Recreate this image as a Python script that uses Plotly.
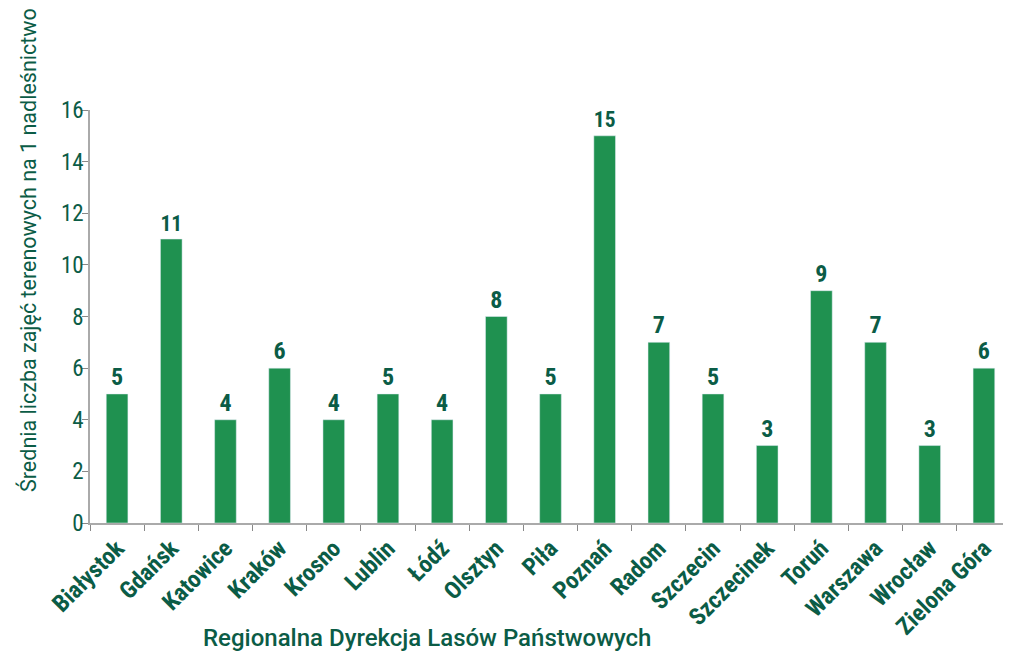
import plotly.graph_objects as go

categories = ["Białystok", "Gdańsk", "Katowice", "Kraków", "Krosno", "Lublin", "Łódź",
              "Olsztyn", "Piła", "Poznań", "Radom", "Szczecin", "Szczecinek", "Toruń",
              "Warszawa", "Wrocław", "Zielona Góra"]
values = [5, 11, 4, 6, 4, 5, 4, 8, 5, 15, 7, 5, 3, 9, 7, 3, 6]
x_title = "Regionalna Dyrekcja Lasów Państwowych"
y_title = "Średnia liczba zajęć terenowych na 1 nadleśnictwo"

bar_color = "#1f9150"
text_color = "#0b5c46"
cond = "Roboto Condensed, Roboto, sans-serif"
reg = "Roboto, sans-serif"

# page body has an 8px margin; figure sized to fill the rest of the viewport
W, H = 1003, 648
L, T, R, B = 82, 102, 0, 133
pw = W - L - R
ph = H - T - B

fig = go.Figure(go.Bar(
    x=categories, y=values, marker_color=bar_color, width=0.4,
    text=[str(v) for v in values], textposition="outside", cliponaxis=False,
    textfont=dict(family=cond, size=24, color=text_color, weight="bold"),
))

fig.update_layout(
    width=W, height=H, plot_bgcolor="white", paper_bgcolor="white",
    margin=dict(l=L, r=R, t=T, b=B, autoexpand=False),
    showlegend=False,
    font=dict(family=cond, color=text_color),
)
fig.add_annotation(text=x_title, xref="paper", yref="paper",
                   x=(419 - L) / pw, y=-(630 - (H - B)) / ph,
                   xanchor="center", yanchor="middle", showarrow=False,
                   font=dict(family=reg, size=24, color=text_color, weight=500))
fig.add_annotation(text=y_title, xref="paper", yref="paper",
                   x=(20 - L) / pw, y=((H - B) - 242) / ph, textangle=-90,
                   xanchor="center", yanchor="middle", showarrow=False,
                   font=dict(family=reg, size=21.5, color=text_color))

fig.update_xaxes(
    showline=True, linecolor="#aaaaaa", linewidth=1.5, automargin=False,
    ticks="outside", tickson="boundaries", ticklen=6, tickcolor="#888888",
    tickangle=-45, tickfont=dict(family=cond, size=24, color=text_color, weight="bold"),
)
fig.update_yaxes(
    range=[0, 16], dtick=2, showgrid=False, zeroline=False, automargin=False,
    showline=True, linecolor="#aaaaaa", linewidth=1.5,
    ticks="outside", ticklen=6, tickcolor="#888888", ticklabelstandoff=-6,
    tickfont=dict(family=cond, size=23, color=text_color),
)
fig.write_html("out.html")
